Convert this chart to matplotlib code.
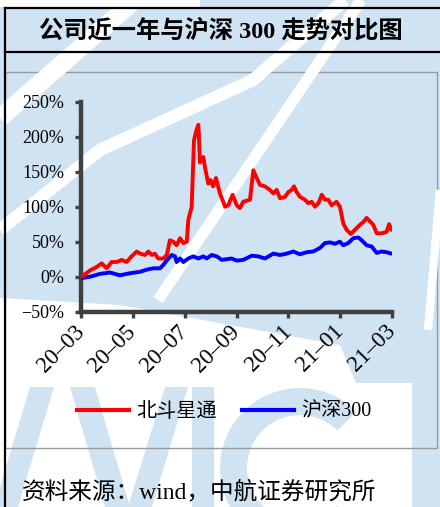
import matplotlib
matplotlib.use("Agg")
import matplotlib.pyplot as plt
from matplotlib.patches import Polygon, Rectangle, Wedge
from matplotlib.lines import Line2D

# ---------------- data ----------------
title = "公司近一年与沪深 300 走势对比图"
source = "资料来源：wind，中航证券研究所"
series_names = ["北斗星通", "沪深300"]

# x = months since 2020-03
red_months = [0.03, 0.35, 0.61, 0.80, 0.99, 1.18, 1.37, 1.57, 1.76, 1.95, 2.15,
              2.28, 2.47, 2.60, 2.73, 2.85, 2.98, 3.18, 3.31, 3.43, 3.56,
              3.69, 3.82, 3.95, 4.08, 4.14, 4.27, 4.36, 4.46, 4.53, 4.59,
              4.72, 4.78, 4.91, 5.00, 5.10, 5.21, 5.36, 5.56, 5.68, 5.85,
              6.01, 6.13, 6.26, 6.52, 6.65, 6.78, 6.91, 7.10, 7.29, 7.42,
              7.55, 7.68, 7.87, 8.00, 8.13, 8.22, 8.32, 8.45, 8.64, 8.77,
              8.90, 9.03, 9.16, 9.29, 9.41, 9.54, 9.67, 9.86, 9.99, 10.12,
              10.25, 10.41, 10.57, 10.76, 10.92, 11.02, 11.15, 11.28, 11.41, 11.60,
              11.79, 11.89, 11.97]
red_values = [0, 9, 14, 19, 12, 21, 21, 24, 21, 29, 36,
              33, 31, 36, 31, 33, 26, 26, 31, 52, 50,
              45, 55, 48, 50, 81, 100, 195, 210, 217, 163,
              171, 157, 133, 138, 129, 141, 119, 100, 102, 117,
              102, 98, 107, 110, 152, 141, 131, 129, 124, 119,
              124, 112, 114, 121, 124, 129, 121, 114, 110, 105,
              107, 100, 105, 117, 110, 110, 102, 107, 100, 76,
              67, 61, 67, 74, 79, 84, 79, 74, 62, 62,
              64, 75, 67]

blue_months = [0.03, 0.35, 0.73, 1.12, 1.50, 1.89,
               2.28, 2.53, 2.79, 3.05, 3.18, 3.37, 3.50, 3.63, 3.69, 3.82,
               3.95, 4.14, 4.33, 4.53, 4.72, 4.85, 5.04, 5.24, 5.43, 5.62,
               5.81, 6.01, 6.26, 6.59, 6.84, 7.10, 7.42, 7.68, 7.94, 8.19,
               8.45, 8.71, 8.96, 9.22, 9.41, 9.61, 9.80, 9.99, 10.12, 10.31,
               10.51, 10.70, 10.83, 11.02, 11.22, 11.41, 11.60, 11.79, 11.97]
blue_values = [-2, 0, 4, 6, 2, 5,
               7, 10, 12, 12, 17, 26, 31, 29, 21, 26,
               21, 26, 29, 26, 29, 26, 31, 29, 24, 25,
               26, 23, 24, 30, 29, 26, 33, 31, 33, 36,
               32, 35, 36, 41, 48, 49, 47, 50, 45, 48,
               55, 56, 52, 45, 43, 34, 36, 35, 33]

x_ticks = [0, 2, 4, 6, 8, 10, 12]
x_labels = ["20–03", "20–05", "20–07", "20–09", "20–11", "21–01", "21–03"]
y_ticks = [-50, 0, 50, 100, 150, 200, 250]
y_labels = ["−50%", "0%", "50%", "100%", "150%", "200%", "250%"]

# ---------------- figure ----------------
W, H = 440, 507
fig = plt.figure(figsize=(W / 100, H / 100), dpi=100)
fig.patch.set_facecolor("white")

bg = fig.add_axes([0, 0, 1, 1], zorder=0)
bg.set_xlim(0, W)
bg.set_ylim(H, 0)
bg.axis("off")

wm = "#cfe3f2"
# main watermark region
bg.add_patch(Polygon([(0, 0), (440, 0), (440, 507), (412, 507), (412, 383), (356, 383),
                      (340, 345), (120, 305), (0, 298)], closed=True, fc=wm, ec="none"))
# white stripes
bg.add_patch(Rectangle((0, 0), 200, 7, fc="white", ec="none"))
bg.plot([135, 0], [0, 118], color="white", lw=13, solid_capstyle="butt")
bg.plot([0, 100, 253, 345], [230, 150, 80, 0], color="white", lw=9, solid_capstyle="butt")
bg.plot([361, 158], [0, 300], color="white", lw=8, solid_capstyle="butt")
bg.plot([440, 428], [190, 330], color="white", lw=6, solid_capstyle="butt")
# AVIC letters
bg.add_patch(Polygon([(30, 387), (54, 387), (18, 507), (-6, 507)], closed=True, fc=wm, ec="none"))
bg.add_patch(Polygon([(70, 387), (95, 387), (130, 507), (105, 507)], closed=True, fc=wm, ec="none"))
bg.add_patch(Polygon([(165, 387), (188, 387), (152, 507), (128, 507)], closed=True, fc=wm, ec="none"))
bg.add_patch(Rectangle((192, 387), 22, 120, fc=wm, ec="none"))
bg.add_patch(Wedge((300, 468), 80, 45, 315, width=27, fc=wm, ec="none"))

# frames
bg.plot([5, 440], [8, 8], color="black", lw=1.6)
bg.plot([5, 440], [52, 52], color="black", lw=1.6)
bg.plot([5, 5], [8, 507], color="black", lw=1.6)
bg.add_patch(Rectangle((5, 72), 432, 376, fc="none", ec="#9a9a9a", lw=1.0))

mixed_font = ["Liberation Serif", "Noto Sans CJK SC"]
bg.text(221, 31, title, family=mixed_font, fontsize=17.5, fontweight="bold",
        ha="center", va="center")
bg.text(22, 492, source, family=mixed_font, fontsize=17, ha="left", va="center")

# ---------------- chart ----------------
ax = fig.add_axes([81 / W, 1 - 311.7 / H, (392 - 81) / W, (311.7 - 101.7) / H], zorder=2)
ax.patch.set_alpha(0)
ax.plot(blue_months, blue_values, color="#0000ff", lw=2.8, solid_joinstyle="round",
        solid_capstyle="round", label=series_names[1], zorder=3)
ax.plot(red_months, red_values, color="#ff0000", lw=2.8, solid_joinstyle="round",
        solid_capstyle="round", label=series_names[0], zorder=4)
ax.set_xlim(0, 12)
ax.set_ylim(-50, 250)
for s in ["top", "right"]:
    ax.spines[s].set_visible(False)
for s in ["left", "bottom"]:
    ax.spines[s].set_color("#404040")
    ax.spines[s].set_linewidth(3.2)
    ax.spines[s].set_capstyle("projecting")
ax.set_xticks(x_ticks)
ax.set_xticklabels(x_labels, rotation=45, ha="right", va="center", rotation_mode="anchor",
                   family="Liberation Serif", fontsize=16.5)
ax.set_yticks(y_ticks)
ax.set_yticklabels(y_labels, family="Liberation Serif", fontsize=13)
ax.tick_params(axis="both", direction="out", length=4, width=2.4, color="#404040")
ax.tick_params(axis="y", pad=8)
ax.tick_params(axis="x", pad=8)

handles = [Line2D([], [], color="#ff0000", lw=3.0), Line2D([], [], color="#0000ff", lw=3.0)]
fig.legend(handles, series_names, loc="center", bbox_to_anchor=(224 / W, 1 - 412 / H),
           ncol=2, frameon=False, prop={"family": mixed_font, "size": 14.5},
           handlelength=2.6, handletextpad=0.35, columnspacing=1.25)

fig.savefig("out.png", dpi=100, facecolor="white")
